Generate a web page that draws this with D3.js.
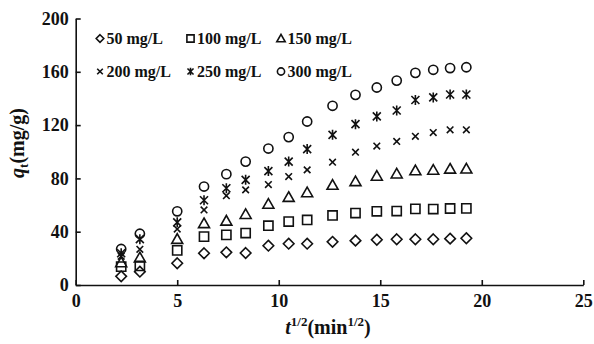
<!DOCTYPE html>
<html lang="en">
<head>
<meta charset="UTF-8">
<title>q_t vs t^1/2</title>
<script src="https://d3js.org/d3.v7.min.js"></script>
<style>
  body { margin: 0; padding: 0; background: #fff; }
  svg { display: block; }
  text { font-family: "Liberation Serif", "Times New Roman", serif; font-weight: bold; fill: #111; }
  .axis path, .axis line { stroke: #111; stroke-width: 1.6; }
  .axis text { font-size: 18px; }
  .mark { fill: none; stroke: #111; stroke-width: 1.6; }
</style>
</head>
<body>
<div id="chart"></div>
<script>
// t^(1/2) values (min^1/2)
const sqrtTime = [2.24, 3.16, 5.00, 6.32, 7.42, 8.37, 9.49, 10.49, 11.40, 12.65, 13.78, 14.83, 15.81, 16.73, 17.61, 18.44, 19.24];

// q_t (mg/g) for each initial concentration
const q50  = [6.5, 10, 16.3, 23.8, 24.5, 24, 29.5, 31, 31, 32.4, 33.3, 34, 34.3, 34.3, 34.3, 34.8, 35.1];
const q100 = [13.8, 14.3, 26, 36.3, 37.6, 39, 44.5, 47.6, 48.8, 52.2, 54, 55.3, 55.5, 57.1, 57, 57.4, 57.5];
const q150 = [17, 20.6, 34.5, 46.3, 48.2, 53.2, 60.9, 66, 69.5, 75.1, 77.8, 81.9, 83.6, 86, 86.4, 87.2, 87.3];
const q200 = [21.5, 26.8, 42, 56.3, 67, 71.4, 75.4, 81.4, 86.4, 92.2, 99.7, 104.3, 107.7, 111.6, 114.4, 116.5, 116.5];
const q250 = [23.8, 34.4, 47, 63.6, 72.6, 78.9, 85.5, 92.6, 102, 112.7, 120.7, 126.5, 131, 138.8, 140.8, 143, 143];
const q300 = [27, 38.5, 55.3, 73.9, 83.2, 92.6, 102.4, 111, 122.7, 134.5, 142.7, 148.2, 153.4, 159.2, 161.5, 162.8, 163.4];

const seriesLabels = ["50 mg/L", "100 mg/L", "150 mg/L", "200 mg/L", "250 mg/L", "300 mg/L"];
const seriesValues = [q50, q100, q150, q200, q250, q300];
const seriesShapes = ["diamond", "square", "triangle", "cross", "asterisk", "circle"];

const xTicks = [0, 5, 10, 15, 20, 25];
const yTicks = [0, 40, 80, 120, 160, 200];

const width = 594, height = 344;

const svg = d3.select("#chart").append("svg")
    .attr("width", width)
    .attr("height", height);

const x = d3.scaleLinear().domain([0, 25]).range([75.7, 583.3]);
const y = d3.scaleLinear().domain([0, 200]).range([285, 18.5]);

// marker outlines, s = half size
function shapePath(type, s) {
    const p = d3.path();
    if (type === "diamond") {
        p.moveTo(0, -s); p.lineTo(s, 0); p.lineTo(0, s); p.lineTo(-s, 0); p.closePath();
    } else if (type === "square") {
        p.rect(-s, -s, 2 * s, 2 * s);
    } else if (type === "triangle") {
        const h = s * 1.75;
        p.moveTo(0, -h * 0.55); p.lineTo(s, h * 0.45); p.lineTo(-s, h * 0.45); p.closePath();
    } else if (type === "cross") {
        p.moveTo(-s, -s); p.lineTo(s, s); p.moveTo(s, -s); p.lineTo(-s, s);
    } else if (type === "asterisk") {
        p.moveTo(-s * 0.8, -s * 0.8); p.lineTo(s * 0.8, s * 0.8);
        p.moveTo(s * 0.8, -s * 0.8); p.lineTo(-s * 0.8, s * 0.8);
        p.moveTo(0, -s); p.lineTo(0, s);
    } else {
        p.arc(0, 0, s, 0, 2 * Math.PI);
    }
    return p.toString();
}
const markSize = { diamond: 5.3, square: 4.6, triangle: 5.5, cross: 3.3, asterisk: 5, circle: 4.6 };
const legendSize = { diamond: 3.8, square: 3.6, triangle: 4.2, cross: 2.8, asterisk: 3.8, circle: 3.6 };

// axes
svg.append("g")
    .attr("class", "axis")
    .attr("transform", `translate(0,${y(0)})`)
    .call(d3.axisBottom(x).tickValues(xTicks).tickSizeInner(-5).tickSizeOuter(0).tickPadding(9))
    .call(g => g.selectAll("text").attr("font-size", 18));

svg.append("g")
    .attr("class", "axis")
    .attr("transform", `translate(${x(0)},0)`)
    .call(d3.axisLeft(y).tickValues(yTicks).tickSizeInner(-5).tickSizeOuter(0).tickPadding(7))
    .call(g => g.selectAll("text").attr("font-size", 18));

// data points
seriesValues.forEach((vals, i) => {
    const shape = seriesShapes[i];
    svg.append("g")
        .selectAll("path")
        .data(vals.map((v, j) => [sqrtTime[j], v]))
        .join("path")
        .attr("class", "mark")
        .attr("transform", d => `translate(${x(d[0])},${y(d[1])})`)
        .attr("d", shapePath(shape, markSize[shape]));
});

// legend, two rows of three
const legend = svg.append("g");
seriesLabels.forEach((label, i) => {
    const col = i % 3, row = Math.floor(i / 3);
    const gx = 100 + col * 90.5, gy = 38.5 + row * 33;
    const shape = seriesShapes[i];
    legend.append("path")
        .attr("class", "mark")
        .attr("stroke-width", 1.5)
        .attr("transform", `translate(${gx},${gy})`)
        .attr("d", shapePath(shape, legendSize[shape]));
    legend.append("text")
        .attr("x", gx + 6.5)
        .attr("y", gy + 5.5)
        .attr("font-size", 16)
        .text(label);
});

// axis titles
const xt = svg.append("text")
    .attr("x", 328)
    .attr("y", 334)
    .attr("text-anchor", "middle")
    .attr("font-size", 20);
xt.append("tspan").attr("font-style", "italic").text("t");
xt.append("tspan").attr("font-size", 13).attr("dy", -8).text("1/2");
xt.append("tspan").attr("dy", 8).text("(min");
xt.append("tspan").attr("font-size", 13).attr("dy", -8).text("1/2");
xt.append("tspan").attr("dy", 8).text(")");

const yt = svg.append("text")
    .attr("transform", "translate(24,143) rotate(-90)")
    .attr("text-anchor", "middle")
    .attr("font-size", 20);
yt.append("tspan").attr("font-style", "italic").text("q");
yt.append("tspan").attr("font-size", 13).attr("dy", 4).text("t");
yt.append("tspan").attr("dy", -4).text("(mg/g)");
</script>
</body>
</html>
